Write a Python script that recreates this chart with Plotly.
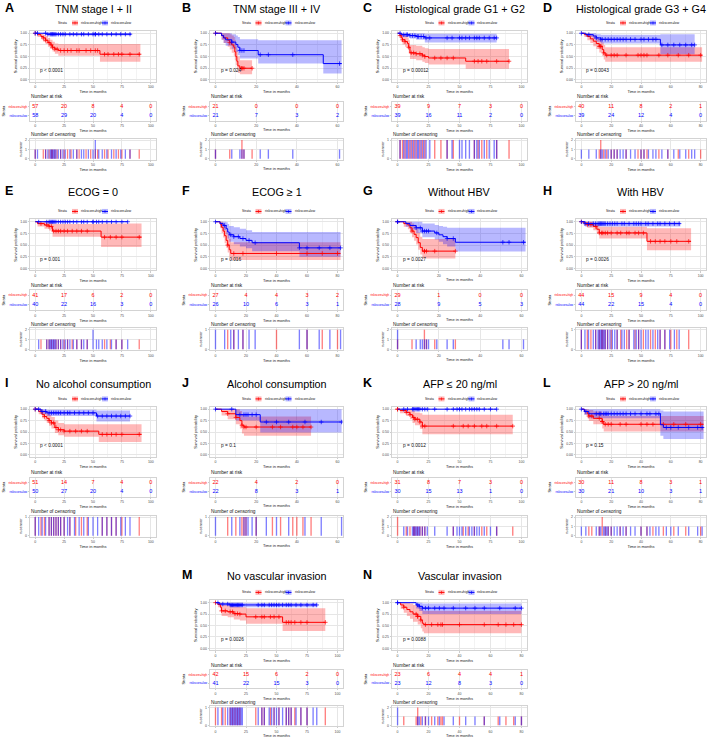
import plotly.graph_objects as go
from collections import Counter

# ---------------- DATA ----------------
A_TITLE = "TNM stage I + II"; A_P = "p < 0.0001"; A_TICKS = [0, 25, 50, 75, 100]
A_HIGH_T = [0, 2, 5, 7, 9, 11, 13, 15, 17, 20, 56]
A_HIGH_S = [1, 0.97, 0.93, 0.90, 0.85, 0.80, 0.75, 0.70, 0.66, 0.63, 0.55]
A_HIGH_LO = [1, 0.92, 0.87, 0.82, 0.77, 0.71, 0.66, 0.61, 0.56, 0.52, 0.39]
A_HIGH_HI = [1, 1, 0.99, 0.97, 0.94, 0.90, 0.86, 0.82, 0.78, 0.77, 0.77]
A_HIGH_END = 91
A_LOW_T = [0, 10]; A_LOW_S = [1, 0.98]; A_LOW_LO = [1, 0.95]; A_LOW_HI = [1, 1]; A_LOW_END = 83
A_HIGH_CENS = [0, 7, 9, 12, 14, 15, 17, 19, 22, 25, 28, 31, 36, 38, 44, 48, 52, 54, 60, 63, 68, 72, 75, 82, 90]
A_LOW_CENS = [0, 2, 9, 11, 13, 14, 15, 16, 17, 18, 20, 22, 24, 26, 30, 33, 36, 40, 42, 46, 50, 52, 52, 55, 58, 62, 66, 70, 74, 78, 82]
A_RISK_HIGH = [57, 20, 8, 4, 0]; A_RISK_LOW = [58, 29, 20, 4, 0]

B_TITLE = "TNM stage III + IV"; B_P = "p = 0.024"; B_TICKS = [0, 20, 40, 60]
B_HIGH_T = [0, 3, 4, 6, 7, 8, 9, 9.5, 10, 10.5, 11, 12]
B_HIGH_S = [1, 0.95, 0.90, 0.85, 0.80, 0.75, 0.70, 0.60, 0.50, 0.40, 0.30, 0.25]
B_HIGH_LO = [1, 0.86, 0.79, 0.71, 0.65, 0.58, 0.52, 0.42, 0.32, 0.23, 0.15, 0.12]
B_HIGH_HI = [1, 1, 1, 1, 0.98, 0.95, 0.92, 0.85, 0.75, 0.65, 0.50, 0.42]
B_HIGH_END = 18
B_LOW_T = [0, 3, 4, 5, 8, 10, 11, 12, 21, 53]
B_LOW_S = [1, 0.95, 0.90, 0.86, 0.81, 0.76, 0.70, 0.63, 0.54, 0.35]
B_LOW_LO = [1, 0.86, 0.79, 0.73, 0.67, 0.60, 0.53, 0.46, 0.35, 0.14]
B_LOW_HI = [1, 1, 1, 1, 0.98, 0.95, 0.92, 0.87, 0.85, 0.85]
B_LOW_END = 62
B_HIGH_CENS = [0, 7, 13, 13, 14, 18]
B_LOW_CENS = [0, 8, 12, 13, 14, 22, 26, 38, 61]
B_RISK_HIGH = [21, 0, 0, 0]; B_RISK_LOW = [21, 7, 3, 2]

C_TITLE = "Histological grade G1 + G2"; C_P = "p = 0.00012"; C_TICKS = [0, 25, 50, 75, 100]
C_HIGH_T = [0, 2, 3, 4, 6, 8, 9, 10, 15, 20, 22, 25, 55]
C_HIGH_S = [1, 0.95, 0.90, 0.86, 0.82, 0.78, 0.70, 0.58, 0.56, 0.53, 0.50, 0.47, 0.40]
C_HIGH_LO = [1, 0.88, 0.81, 0.76, 0.71, 0.66, 0.57, 0.45, 0.42, 0.39, 0.36, 0.33, 0.24]
C_HIGH_HI = [1, 1, 1, 0.97, 0.94, 0.91, 0.85, 0.75, 0.73, 0.70, 0.68, 0.66, 0.66]
C_HIGH_END = 90
C_LOW_T = [0, 3, 10, 15, 22]; C_LOW_S = [1, 0.97, 0.95, 0.93, 0.90]
C_LOW_LO = [1, 0.92, 0.89, 0.86, 0.80]; C_LOW_HI = [1, 1, 1, 1, 0.99]; C_LOW_END = 80
C_HIGH_CENS = [2, 4, 6, 9, 11, 13, 15, 18, 20, 22, 30, 35, 40, 45, 62, 65, 68, 72, 80, 90]
C_LOW_CENS = [2, 5, 7, 8, 10, 12, 14, 16, 17, 19, 21, 23, 26, 40, 44, 50, 52, 55, 58, 62, 64, 66, 70, 74, 78, 80]
C_RISK_HIGH = [39, 9, 7, 3, 0]; C_RISK_LOW = [39, 16, 11, 2, 0]

D_TITLE = "Histological grade G3 + G4"; D_P = "p = 0.0043"; D_TICKS = [0, 20, 40, 60, 80]
D_HIGH_T = [0, 2, 4, 6, 8, 10, 12, 14, 15, 16]
D_HIGH_S = [1, 0.97, 0.93, 0.88, 0.83, 0.78, 0.72, 0.65, 0.58, 0.53]
D_HIGH_LO = [1, 0.92, 0.85, 0.79, 0.72, 0.66, 0.59, 0.51, 0.44, 0.39]
D_HIGH_HI = [1, 1, 1, 0.98, 0.95, 0.91, 0.86, 0.80, 0.75, 0.70]
D_HIGH_END = 81
D_LOW_T = [0, 3, 8, 10, 13, 53]; D_LOW_S = [1, 0.97, 0.94, 0.90, 0.87, 0.75]
D_LOW_LO = [1, 0.92, 0.87, 0.82, 0.78, 0.55]; D_LOW_HI = [1, 1, 1, 0.98, 0.97, 0.98]; D_LOW_END = 76
D_HIGH_CENS = [12, 13, 13, 15, 17, 20, 22, 24, 30, 38, 40, 42, 44, 52, 58, 65, 72, 80]
D_LOW_CENS = [0, 5, 10, 13, 14, 16, 18, 20, 22, 24, 26, 28, 30, 33, 36, 40, 42, 45, 48, 50, 54, 58, 62, 66, 70, 74, 76]
D_RISK_HIGH = [40, 11, 8, 2, 1]; D_RISK_LOW = [39, 24, 12, 4, 0]

E_TITLE = "ECOG = 0"; E_P = "p = 0.001"; E_TICKS = [0, 25, 50, 75, 100]
E_HIGH_T = [0, 2, 8, 12, 15, 57]; E_HIGH_S = [1, 0.96, 0.93, 0.90, 0.80, 0.67]
E_HIGH_LO = [1, 0.90, 0.85, 0.81, 0.68, 0.46]; E_HIGH_HI = [1, 1, 1, 0.99, 0.95, 0.96]; E_HIGH_END = 92
E_LOW_T = [0]; E_LOW_S = [1]; E_LOW_LO = [1]; E_LOW_HI = [1]; E_LOW_END = 80
E_HIGH_CENS = [5, 10, 12, 14, 16, 18, 20, 22, 25, 28, 32, 36, 40, 45, 60, 65, 70, 75, 90]
E_LOW_CENS = [3, 10, 12, 13, 14, 15, 16, 17, 18, 20, 22, 24, 26, 28, 30, 33, 36, 40, 42, 45, 50, 50, 53, 55, 58, 62, 66, 70, 75, 80]
E_RISK_HIGH = [41, 17, 6, 2, 0]; E_RISK_LOW = [40, 22, 16, 3, 0]

F_TITLE = "ECOG ≥ 1"; F_P = "p = 0.016"; F_TICKS = [0, 20, 40, 60, 80]
F_HIGH_T = [0, 3, 4, 5, 6, 7, 8, 9, 10]
F_HIGH_S = [1, 0.95, 0.88, 0.80, 0.70, 0.60, 0.50, 0.40, 0.32]
F_HIGH_LO = [1, 0.86, 0.76, 0.66, 0.54, 0.44, 0.34, 0.25, 0.18]
F_HIGH_HI = [1, 1, 1, 0.97, 0.90, 0.82, 0.73, 0.63, 0.56]
F_HIGH_END = 82
F_LOW_T = [0, 3, 5, 7, 8, 9, 12, 16, 20, 24, 55]
F_LOW_S = [1, 0.96, 0.92, 0.85, 0.78, 0.72, 0.68, 0.64, 0.60, 0.55, 0.44]
F_LOW_LO = [1, 0.89, 0.82, 0.73, 0.64, 0.57, 0.52, 0.47, 0.43, 0.37, 0.25]
F_LOW_HI = [1, 1, 1, 0.99, 0.95, 0.91, 0.88, 0.85, 0.82, 0.78, 0.78]
F_LOW_END = 82
F_HIGH_CENS = [8, 12, 18, 40, 60, 70, 80]
F_LOW_CENS = [0, 6, 10, 12, 15, 18, 22, 26, 55, 60, 68, 75, 82]
F_RISK_HIGH = [27, 4, 4, 3, 2]; F_RISK_LOW = [26, 10, 6, 3, 1]

G_TITLE = "Without HBV"; G_P = "p = 0.0027"; G_TICKS = [0, 20, 40, 60]
G_HIGH_T = [0, 3, 5, 6, 7, 8, 9, 10, 11, 12]
G_HIGH_S = [1, 0.96, 0.93, 0.87, 0.80, 0.73, 0.66, 0.55, 0.45, 0.37]
G_HIGH_LO = [1, 0.89, 0.84, 0.76, 0.67, 0.59, 0.51, 0.40, 0.30, 0.21]
G_HIGH_HI = [1, 1, 1, 1, 0.96, 0.91, 0.86, 0.77, 0.68, 0.63]
G_HIGH_END = 28
G_LOW_T = [0, 4, 6, 9, 12, 18, 20, 22, 24, 28]
G_LOW_S = [1, 0.96, 0.92, 0.87, 0.80, 0.76, 0.72, 0.68, 0.64, 0.56]
G_LOW_LO = [1, 0.89, 0.83, 0.76, 0.67, 0.62, 0.57, 0.52, 0.47, 0.36]
G_LOW_HI = [1, 1, 1, 1, 0.96, 0.93, 0.91, 0.89, 0.87, 0.87]
G_LOW_END = 62
G_HIGH_CENS = [0, 7, 13, 13, 14, 18, 28]
G_LOW_CENS = [0, 0, 9, 11, 12, 13, 14, 15, 19, 24, 27, 51, 54, 61]
G_RISK_HIGH = [29, 1, 0, 0]; G_RISK_LOW = [28, 9, 5, 3]

H_TITLE = "With HBV"; H_P = "p = 0.0026"; H_TICKS = [0, 25, 50, 75, 100]
H_HIGH_T = [0, 2, 5, 10, 13, 15, 55]; H_HIGH_S = [1, 0.97, 0.94, 0.90, 0.84, 0.76, 0.58]
H_HIGH_LO = [1, 0.92, 0.87, 0.82, 0.74, 0.64, 0.39]; H_HIGH_HI = [1, 1, 1, 0.98, 0.94, 0.89, 0.86]
H_HIGH_END = 92
H_LOW_T = [0, 3]; H_LOW_S = [1, 0.96]; H_LOW_LO = [1, 0.90]; H_LOW_HI = [1, 1]; H_LOW_END = 83
H_HIGH_CENS = [0, 5, 8, 12, 15, 17, 18, 20, 22, 25, 30, 33, 38, 40, 45, 48, 52, 58, 62, 66, 70, 75, 80, 90]
H_LOW_CENS = [0, 3, 6, 10, 12, 14, 15, 16, 17, 18, 19, 20, 22, 24, 26, 28, 30, 34, 36, 40, 44, 46, 48, 50, 54, 56, 60, 64, 66, 70, 74, 78, 82]
H_RISK_HIGH = [44, 15, 9, 4, 0]; H_RISK_LOW = [44, 22, 15, 4, 0]

I_TITLE = "No alcohol consumption"; I_P = "p < 0.0001"; I_TICKS = [0, 25, 50, 75, 100]
I_HIGH_T = [0, 3, 6, 8, 10, 12, 14, 17, 20, 25, 55]
I_HIGH_S = [1, 0.95, 0.88, 0.84, 0.80, 0.75, 0.70, 0.60, 0.55, 0.52, 0.45]
I_HIGH_LO = [1, 0.89, 0.80, 0.75, 0.70, 0.64, 0.58, 0.48, 0.43, 0.40, 0.28]
I_HIGH_HI = [1, 1, 0.97, 0.94, 0.91, 0.87, 0.83, 0.75, 0.70, 0.67, 0.67]
I_HIGH_END = 92
I_LOW_T = [0, 5, 10, 53]; I_LOW_S = [1, 0.95, 0.92, 0.85]
I_LOW_LO = [1, 0.89, 0.85, 0.73]; I_LOW_HI = [1, 1, 0.99, 0.97]; I_LOW_END = 82
I_HIGH_CENS = [0, 5, 8, 12, 14, 16, 18, 20, 22, 25, 30, 35, 40, 45, 58, 62, 66, 70, 75, 90]
I_LOW_CENS = [0, 3, 6, 9, 12, 14, 16, 18, 20, 22, 25, 28, 30, 34, 38, 42, 46, 50, 54, 58, 62, 66, 70, 74, 78, 82]
I_RISK_HIGH = [51, 14, 7, 4, 0]; I_RISK_LOW = [50, 27, 20, 4, 0]

J_TITLE = "Alcohol consumption"; J_P = "p = 0.1"; J_TICKS = [0, 20, 40, 60]
J_HIGH_T = [0, 3, 6, 10, 12, 13, 14]; J_HIGH_S = [1, 0.95, 0.90, 0.82, 0.75, 0.65, 0.61]
J_HIGH_LO = [1, 0.86, 0.78, 0.67, 0.58, 0.47, 0.42]; J_HIGH_HI = [1, 1, 1, 1, 0.96, 0.88, 0.84]
J_HIGH_END = 47
J_LOW_T = [0, 10, 22]; J_LOW_S = [1, 0.88, 0.72]; J_LOW_LO = [1, 0.75, 0.49]; J_LOW_HI = [1, 1, 1]; J_LOW_END = 62
J_HIGH_CENS = [6, 10, 13, 14, 15, 20, 28, 32, 38, 40, 43, 47]
J_LOW_CENS = [0, 8, 12, 14, 15, 16, 18, 20, 25, 30, 36, 44, 52, 62]
J_RISK_HIGH = [22, 4, 2, 0]; J_RISK_LOW = [22, 8, 3, 1]

K_TITLE = "AFP ≤ 20 ng/ml"; K_P = "p = 0.0012"; K_TICKS = [0, 25, 50, 75, 100]
K_HIGH_T = [0, 2, 7, 10, 12, 14, 18, 20]; K_HIGH_S = [1, 0.97, 0.93, 0.88, 0.82, 0.78, 0.72, 0.63]
K_HIGH_LO = [1, 0.91, 0.85, 0.78, 0.70, 0.65, 0.57, 0.45]; K_HIGH_HI = [1, 1, 1, 0.99, 0.96, 0.93, 0.91, 0.88]
K_HIGH_END = 93
K_LOW_T = [0]; K_LOW_S = [1]; K_LOW_LO = [1]; K_LOW_HI = [1]; K_LOW_END = 80
K_HIGH_CENS = [0, 0, 7, 10, 13, 14, 16, 18, 20, 22, 45, 53, 57, 62, 68, 72, 80, 93]
K_LOW_CENS = [5, 8, 12, 13, 14, 15, 16, 17, 18, 20, 22, 24, 30, 40, 45, 48, 50, 52, 55, 58, 60, 62, 64, 66, 70, 75, 80]
K_RISK_HIGH = [31, 8, 7, 3, 0]; K_RISK_LOW = [30, 15, 13, 1, 0]

L_TITLE = "AFP > 20 ng/ml"; L_P = "p = 0.15"; L_TICKS = [0, 20, 40, 60, 80]
L_HIGH_T = [0, 2, 4, 5, 8, 14, 15]; L_HIGH_S = [1, 0.95, 0.90, 0.85, 0.80, 0.73, 0.67]
L_HIGH_LO = [1, 0.88, 0.80, 0.74, 0.67, 0.58, 0.51]; L_HIGH_HI = [1, 1, 1, 0.98, 0.95, 0.90, 0.85]
L_HIGH_END = 82
L_LOW_T = [0, 2, 5, 53, 55]; L_LOW_S = [1, 0.95, 0.90, 0.66, 0.60]
L_LOW_LO = [1, 0.88, 0.80, 0.42, 0.35]; L_LOW_HI = [1, 1, 1, 0.97, 0.95]; L_LOW_END = 82
L_HIGH_CENS = [5, 7, 12, 14, 14, 16, 18, 20, 26, 30, 40, 44, 48, 55, 62, 70, 80]
L_LOW_CENS = [0, 3, 10, 12, 13, 15, 16, 17, 18, 20, 22, 24, 26, 28, 30, 33, 36, 40, 44, 46, 50, 52, 57, 60, 65, 72, 78, 81]
L_RISK_HIGH = [30, 11, 8, 3, 1]; L_RISK_LOW = [30, 21, 10, 3, 1]

M_TITLE = "No vascular invasion"; M_P = "p = 0.0026"; M_TICKS = [0, 25, 50, 75, 100]
M_HIGH_T = [0, 2, 4, 5, 10, 15, 20, 25, 55]
M_HIGH_S = [1, 0.96, 0.90, 0.82, 0.80, 0.76, 0.75, 0.69, 0.57]
M_HIGH_LO = [1, 0.90, 0.82, 0.71, 0.68, 0.63, 0.61, 0.54, 0.38]
M_HIGH_HI = [1, 1, 0.99, 0.95, 0.94, 0.91, 0.90, 0.88, 0.88]
M_HIGH_END = 90
M_LOW_T = [0, 3, 12]; M_LOW_S = [1, 0.97, 0.95]; M_LOW_LO = [1, 0.93, 0.90]; M_LOW_HI = [1, 1, 0.99]; M_LOW_END = 83
M_HIGH_CENS = [0, 5, 8, 12, 14, 16, 18, 20, 33, 38, 40, 45, 48, 52, 58, 60, 62, 65, 70, 75, 90]
M_LOW_CENS = [2, 6, 10, 12, 13, 14, 15, 16, 17, 18, 19, 20, 21, 22, 35, 38, 40, 44, 46, 48, 50, 52, 55, 58, 60, 62, 66, 70, 75, 80, 83]
M_RISK_HIGH = [42, 15, 6, 2, 0]; M_RISK_LOW = [41, 22, 15, 3, 0]

N_TITLE = "Vascular invasion"; N_P = "p = 0.0088"; N_TICKS = [0, 20, 40, 60, 80]
N_HIGH_T = [0, 2, 4, 6, 8, 10, 13, 15, 16, 17]
N_HIGH_S = [1, 0.95, 0.90, 0.85, 0.80, 0.75, 0.70, 0.62, 0.55, 0.52]
N_HIGH_LO = [1, 0.86, 0.78, 0.71, 0.65, 0.58, 0.52, 0.44, 0.37, 0.33]
N_HIGH_HI = [1, 1, 1, 1, 0.98, 0.95, 0.92, 0.87, 0.83, 0.82]
N_HIGH_END = 80
N_LOW_T = [0, 12, 14, 16]; N_LOW_S = [1, 0.95, 0.92, 0.88]
N_LOW_LO = [1, 0.87, 0.82, 0.75]; N_LOW_HI = [1, 1, 1, 0.98]; N_LOW_END = 80
N_HIGH_CENS = [4, 12, 13, 13, 15, 18, 22, 26, 28, 29, 40, 56, 65, 70, 75, 80]
N_LOW_CENS = [0, 0, 13, 14, 16, 18, 20, 24, 27, 30, 36, 44, 50, 56, 66, 76, 80]
N_RISK_HIGH = [23, 6, 4, 4, 1]; N_RISK_LOW = [23, 12, 8, 3, 0]

STRATA = ["riskscore=high", "riskscore=low"]

# ---------------- LAYOUT (pixels) ----------------
W, H = 709, 738
FONT = "Liberation Sans, Arial, sans-serif"
RED, BLUE = "#FF0000", "#0000FF"
FILL = {"HIGH": "rgba(255,0,0,0.28)", "LOW": "rgba(0,0,255,0.28)"}
LINE = {"HIGH": RED, "LOW": BLUE}
BAR = {"HIGH": "rgba(255,0,0,0.5)", "LOW": "rgba(0,0,255,0.5)"}

COL_X = [(30, 156), (210, 343), (392, 527), (576, 706)]
LETTER_X = [3, 180, 361, 541]
ROW_L = [8, 192, 384, 577]
ROW_KM = [(31, 82), (220, 271), (408, 458), (602, 652)]
ROW_TAB = [(102, 121), (291, 311), (479, 498), (672, 690)]
ROW_CEN = [(139, 160), (329, 351), (517, 538), (708, 728)]
POS = {"A": (0, 0), "B": (0, 1), "C": (0, 2), "D": (0, 3),
       "E": (1, 0), "F": (1, 1), "G": (1, 2), "H": (1, 3),
       "I": (2, 0), "J": (2, 1), "K": (2, 2), "L": (2, 3),
       "M": (3, 1), "N": (3, 2)}


def fx(x):
    return x / W


def fy(y):
    return 1 - y / H


G = globals()
fig = go.Figure()
layout = {}
annotations = []
shapes = []
axis_i = [0]


def new_axes(xdom, ydom, xr, yr, xticks, yticks=None, yticktext=None, xtitle=None, ytitle=None,
             xgrid=True, ygrid=True, minor=False):
    axis_i[0] += 1
    i = axis_i[0]
    sfx = "" if i == 1 else str(i)
    tickfont = dict(size=3.5, color="#4d4d4d", family=FONT)
    xa = dict(domain=[fx(xdom[0]), fx(xdom[1])], range=xr, tickvals=xticks, tickfont=tickfont,
              showgrid=xgrid, gridcolor="#e6e6e6", gridwidth=0.6, zeroline=False,
              showline=True, mirror=True, linecolor="#d3d3d3", linewidth=0.6,
              ticks="outside", ticklen=1.5, tickcolor="#cccccc", tickwidth=0.5,
              anchor="y" + sfx, fixedrange=True)
    if minor:
        xa["minor"] = dict(showgrid=True, gridcolor="#f3f3f3", gridwidth=0.4,
                           tickvals=[(a + b) / 2 for a, b in zip(xticks[:-1], xticks[1:])])
    if xtitle:
        xa["title"] = dict(text=xtitle, font=dict(size=4, family=FONT, color="#222"), standoff=1)
    ya = dict(domain=[fy(ydom[1]), fy(ydom[0])], range=yr, tickfont=tickfont,
              showgrid=ygrid, gridcolor="#e6e6e6", gridwidth=0.6, zeroline=False,
              showline=True, mirror=True, linecolor="#d3d3d3", linewidth=0.6,
              ticks="outside", ticklen=1.5, tickcolor="#cccccc", tickwidth=0.5,
              anchor="x" + sfx, fixedrange=True)
    if yticks is not None:
        ya["tickvals"] = yticks
    if yticktext is not None:
        ya["ticktext"] = yticktext
    if ytitle:
        ya["title"] = dict(text=ytitle, font=dict(size=4, family=FONT, color="#222"), standoff=2)
    layout["xaxis" + sfx] = xa
    layout["yaxis" + sfx] = ya
    return "x" + sfx, "y" + sfx


def surv_at(ts, ss, c):
    v = ss[0]
    for t, s in zip(ts, ss):
        if t <= c:
            v = s
    return v


for P, (r, c) in POS.items():
    x0, x1 = COL_X[c]
    ticks = G[P + "_TICKS"]
    xmax = ticks[-1]
    xr = [-0.045 * xmax, xmax * 1.045]
    cx = (x0 + x1) / 2

    # ---- KM plot ----
    xa, ya = new_axes((x0, x1), ROW_KM[r], xr, [-0.04, 1.05], ticks,
                      yticks=[0, 0.25, 0.5, 0.75, 1.0],
                      yticktext=["0.00", "0.25", "0.50", "0.75", "1.00"],
                      xtitle="Time in months", ytitle="Survival probability", minor=True)
    for grp in ["HIGH", "LOW"]:
        t = G[f"{P}_{grp}_T"] + [G[f"{P}_{grp}_END"]]
        lo = G[f"{P}_{grp}_LO"] + [G[f"{P}_{grp}_LO"][-1]]
        hi = G[f"{P}_{grp}_HI"] + [G[f"{P}_{grp}_HI"][-1]]
        fig.add_trace(go.Scatter(x=t, y=lo, mode="lines", line=dict(width=0, shape="hv"),
                                 xaxis=xa, yaxis=ya, showlegend=False, hoverinfo="skip"))
        fig.add_trace(go.Scatter(x=t, y=hi, mode="lines", line=dict(width=0, shape="hv"),
                                 fill="tonexty", fillcolor=FILL[grp],
                                 xaxis=xa, yaxis=ya, showlegend=False, hoverinfo="skip"))
    for grp in ["HIGH", "LOW"]:
        ts = G[f"{P}_{grp}_T"]
        ss = G[f"{P}_{grp}_S"]
        end = G[f"{P}_{grp}_END"]
        fig.add_trace(go.Scatter(x=ts + [end], y=ss + [ss[-1]], mode="lines",
                                 line=dict(width=1.0, shape="hv", color=LINE[grp]),
                                 xaxis=xa, yaxis=ya, showlegend=False, hoverinfo="skip"))
        cens = [v for v in G[f"{P}_{grp}_CENS"] if v <= end]
        fig.add_trace(go.Scatter(x=cens, y=[surv_at(ts, ss, v) for v in cens], mode="markers",
                                 marker=dict(symbol="cross-thin", size=3.2,
                                             line=dict(width=0.7, color=LINE[grp])),
                                 xaxis=xa, yaxis=ya, showlegend=False, hoverinfo="skip"))
    annotations.append(dict(x=xmax * 0.025, y=0.2, xref=xa, yref=ya, text=G[P + "_P"],
                            showarrow=False, xanchor="left", yanchor="middle",
                            font=dict(size=4.8, family=FONT, color="#111")))

    # ---- risk table ----
    xa, ya = new_axes((x0, x1), ROW_TAB[r], xr, [0.45, 2.55], ticks,
                      yticks=[2, 1],
                      yticktext=[f'<span style="color:{RED}">{STRATA[0]}</span>',
                                 f'<span style="color:{BLUE}">{STRATA[1]}</span>'],
                      xtitle="Time in months", ytitle="Strata", ygrid=False)
    layout["yaxis" + ("" if axis_i[0] == 1 else str(axis_i[0]))]["tickfont"] = dict(size=2.9, family=FONT)
    for grp, yv, col in [("HIGH", 2, RED), ("LOW", 1, BLUE)]:
        fig.add_trace(go.Scatter(x=ticks, y=[yv] * len(ticks), mode="text",
                                 text=[str(v) for v in G[f"{P}_RISK_{grp}"]],
                                 textfont=dict(size=5.5, color=col, family=FONT),
                                 xaxis=xa, yaxis=ya, showlegend=False, hoverinfo="skip"))
    annotations.append(dict(x=fx(x0 - 1), y=fy(ROW_TAB[r][0] - 5), xref="paper", yref="paper",
                            text="Number at risk", showarrow=False, xanchor="left", yanchor="middle",
                            font=dict(size=4.8, family=FONT, color="#111")))

    # ---- censoring ----
    counts = {g: Counter(G[f"{P}_{g}_CENS"]) for g in ["HIGH", "LOW"]}
    cmax = max(max(cn.values()) for cn in counts.values())
    xa, ya = new_axes((x0, x1), ROW_CEN[r], xr, [-0.04 * cmax, cmax * 1.08], ticks,
                      yticks=list(range(cmax + 1)), yticktext=[str(v) for v in range(cmax + 1)],
                      xtitle="Time in months", ytitle="n.censor")
    for g in ["HIGH", "LOW"]:
        xs = sorted(counts[g].keys())
        fig.add_trace(go.Bar(x=xs, y=[counts[g][v] for v in xs], width=[xmax * 0.011] * len(xs),
                             marker=dict(color=BAR[g], line=dict(width=0)),
                             xaxis=xa, yaxis=ya, showlegend=False, hoverinfo="skip"))
    annotations.append(dict(x=fx(x0 - 1), y=fy(ROW_CEN[r][0] - 4), xref="paper", yref="paper",
                            text="Number of censoring", showarrow=False, xanchor="left", yanchor="middle",
                            font=dict(size=4.8, family=FONT, color="#111")))

    # ---- letter & title ----
    L = ROW_L[r]
    annotations.append(dict(x=fx(LETTER_X[c]), y=fy(L), xref="paper", yref="paper", text="<b>" + P + "</b>",
                            showarrow=False, xanchor="left", yanchor="middle",
                            font=dict(size=12.5, family=FONT, color="#000")))
    annotations.append(dict(x=fx(cx), y=fy(L + 1), xref="paper", yref="paper", text=G[P + "_TITLE"],
                            showarrow=False, xanchor="center", yanchor="middle",
                            font=dict(size=10.8, family=FONT, color="#000")))

    # ---- legend ----
    ly = ROW_KM[r][0] - 8
    annotations.append(dict(x=fx(cx - 24), y=fy(ly), xref="paper", yref="paper", text="Strata",
                            showarrow=False, xanchor="right", yanchor="middle",
                            font=dict(size=3.3, family=FONT, color="#111")))
    for kx, lab, g in [(cx - 21, STRATA[0], "HIGH"), (cx + 9, STRATA[1], "LOW")]:
        shapes.append(dict(type="rect", xref="paper", yref="paper", x0=fx(kx), x1=fx(kx + 6),
                           y0=fy(ly + 2.5), y1=fy(ly - 2.5), fillcolor=FILL[g], line=dict(width=0)))
        shapes.append(dict(type="line", xref="paper", yref="paper", x0=fx(kx), x1=fx(kx + 6),
                           y0=fy(ly), y1=fy(ly), line=dict(color=LINE[g], width=1)))
        shapes.append(dict(type="line", xref="paper", yref="paper", x0=fx(kx + 3), x1=fx(kx + 3),
                           y0=fy(ly + 1.5), y1=fy(ly - 1.5), line=dict(color=LINE[g], width=0.6)))
        annotations.append(dict(x=fx(kx + 7), y=fy(ly), xref="paper", yref="paper", text=lab,
                                showarrow=False, xanchor="left", yanchor="middle",
                                font=dict(size=3.3, family=FONT, color="#111")))

layout.update(dict(width=W, height=H, margin=dict(l=0, r=0, t=0, b=0),
                   paper_bgcolor="white", plot_bgcolor="white", barmode="overlay",
                   annotations=annotations, shapes=shapes, showlegend=False,
                   font=dict(family=FONT)))
fig.update_layout(**layout)
fig.write_html("out.html", config={"displayModeBar": False},
               post_script="document.body.style.margin='0';document.body.style.overflow='hidden';")
